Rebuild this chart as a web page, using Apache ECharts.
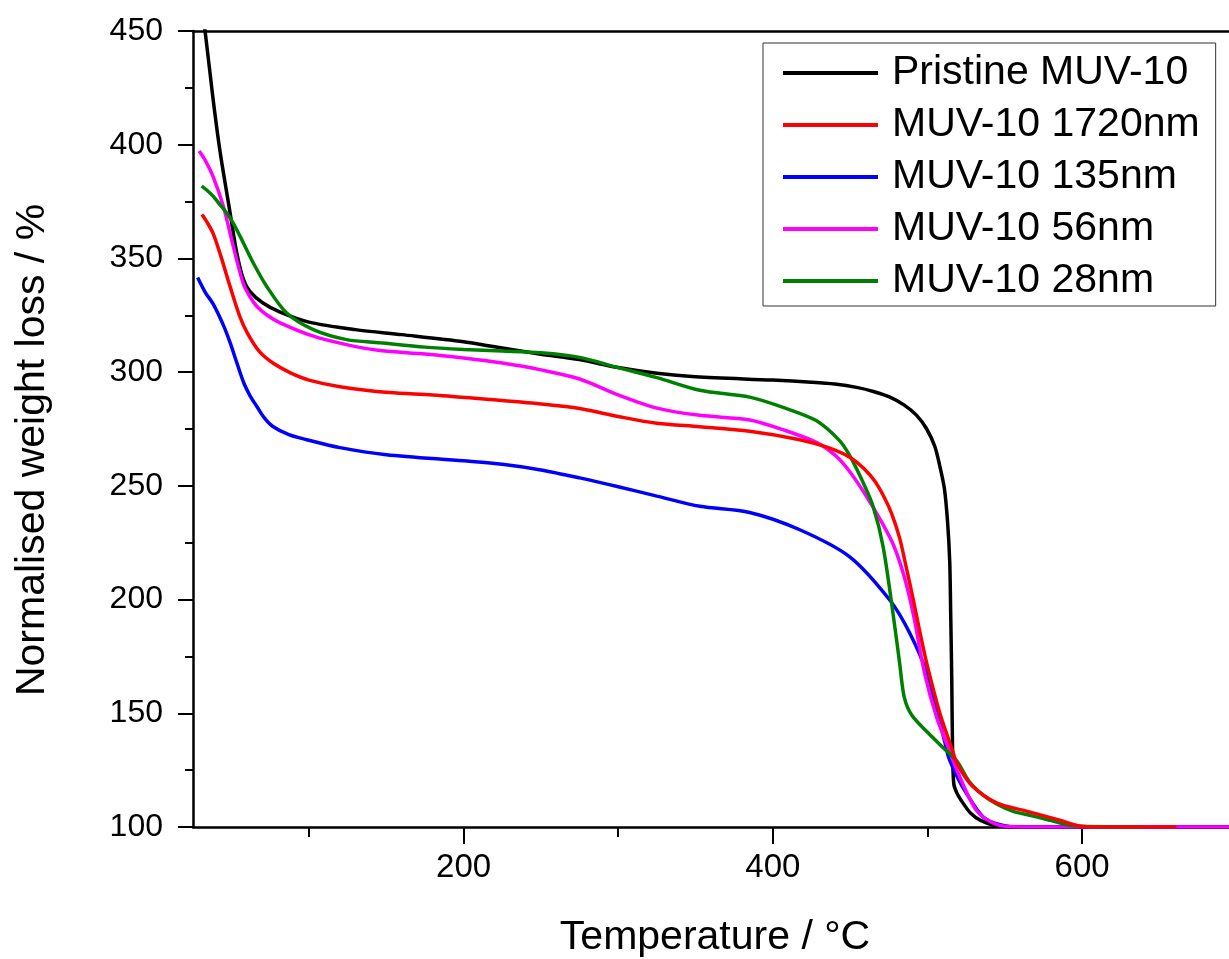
<!DOCTYPE html>
<html>
<head>
<meta charset="utf-8">
<script src="https://cdn.jsdelivr.net/npm/echarts@6/dist/echarts.min.js"></script>
<style>
html,body{margin:0;padding:0;background:#fff;}
#chart{width:1229px;height:959px;}
</style>
</head>
<body>
<div id="chart"></div>
<script>
const seriesNames = ['Pristine MUV-10', 'MUV-10 1720nm', 'MUV-10 135nm', 'MUV-10 56nm', 'MUV-10 28nm'];
const seriesColors = ['#000000', '#ff0000', '#0000ff', '#ff00ff', '#008000'];
const xMajorTicks = [200, 400, 600];
const xMinorTicks = [100, 300, 500];

const pristine = [[28,474],[32.8,450],[38,420],[42.5,397],[49,370],[53.3,352.5],[57.5,341],[61.8,335.5],[70,330.5],[81,326.5],[100,322],[130,318.7],[160,316.5],[200,313.4],[217,311.5],[249,308],[275,305.5],[300,302],[325,299.5],[350,298],[400,296.5],[425,295.6],[440,294.8],[455,293.2],[465,291.5],[475,289.2],[485,285.5],[493,281],[499.5,275],[504.7,267.4],[508,258.6],[511,248.5],[513,234],[514.4,216.5],[515,194.5],[515.7,165],[516.2,135],[517,119],[519,115],[523,110.5],[528,106],[534,103],[545,100.5],[560,100],[700,100]];
const nm1720 = [[30.8,369.3],[34,366],[38,361],[43,351],[49,337.6],[55,325],[60,317.4],[68,309],[76.7,304],[87.7,299.8],[100,296.5],[120,293.6],[152,291],[180,290],[217,288],[250,286],[275,284],[300,280.5],[325,277.5],[352.8,276],[385,274],[417.4,270.3],[435,267],[450,262.5],[459,257.5],[466,252],[472,245],[477,237.5],[482,227],[486,215],[490.5,201],[495,186],[499.5,172],[508,150],[516,134],[519,128],[529,118],[545,110.5],[564,107],[585.5,103],[598,100.5],[610,100],[661,100]];
const nm135 = [[28,341.6],[33,335],[38,330],[44.4,321],[49,313],[53.4,304],[58,295],[62,289.5],[66.2,285],[71,280],[76.7,276.1],[87,272.5],[98.5,270.3],[120,266.8],[150,263.7],[200,261],[225,259.5],[250,257],[275,253.5],[300,249.6],[325,245.5],[352.8,241],[385,238.3],[417.4,230.7],[449.7,218.8],[475.6,199.8],[488.5,185.3],[499.5,167.7],[511,138],[514,130],[520,121],[525,115],[536,104.4],[547,101],[560,100],[700,100]];
const nm56 = [[29,397.2],[33,393],[38,386],[44.6,373],[51,355.4],[57.5,339],[62,333],[66.2,329],[73,325],[81,321.8],[102.8,315.8],[125,312],[146,309.5],[175,308],[200,306.2],[225,304],[250,301],[275,297],[300,290],[325,284.2],[352.8,281],[385,279],[406.5,274.7],[428.5,269],[441,263],[450,256],[460,246],[470,234.5],[478,224],[485,210],[491,193],[498,168],[506,148],[514,134],[519,125],[532,107],[545,101],[560,100],[700,100]];
const nm28 = [[30.6,381.8],[34,380],[38,377.4],[42,374],[46.8,370],[51,365.5],[55.4,359.8],[64,348],[72.6,337.8],[85.6,326],[102.8,318.7],[124.4,314.3],[146,312.9],[175,311],[200,310],[225,309.3],[250,308.5],[275,306.5],[300,302],[325,297.6],[352.8,292],[385,289],[406.6,284.5],[428,278.7],[443,270],[449.7,263.3],[458,252],[464.8,241],[471.3,223.3],[477.7,194],[482,172],[485,157],[490,149],[501,141],[510,135],[519,129],[527,120],[536,114],[545,110],[555,107],[567,105],[579,103],[590,101],[600,100.3],[640,100]];

const allData = [pristine, nm1720, nm135, nm56, nm28];
const zOrder = [2, 6, 3, 4, 5];

const FONT = 'Liberation Sans, Arial, sans-serif';
const chart = echarts.init(document.getElementById('chart'), null, {renderer: 'canvas'});

const series = allData.map((d, i) => ({
  name: seriesNames[i],
  type: 'line',
  data: d,
  xAxisIndex: 0,
  yAxisIndex: 0,
  showSymbol: false,
  symbol: 'none',
  smooth: 0.3,
  clip: true,
  z: zOrder[i],
  lineStyle: {color: seriesColors[i], width: 3.5},
  itemStyle: {color: seriesColors[i]},
  emphasis: {disabled: true}
}));

const axisLineStyle = {color: '#000', width: 2.5};

chart.setOption({
  animation: false,
  backgroundColor: '#ffffff',
  grid: {left: 193, right: 0, top: 31, bottom: 132, containLabel: false},
  xAxis: [
    {
      type: 'value', min: 25, max: 695, position: 'bottom',
      axisLine: {show: true, lineStyle: axisLineStyle},
      axisTick: {show: true, customValues: xMajorTicks, length: 17, lineStyle: {color: '#000', width: 2}},
      axisLabel: {show: true, customValues: xMajorTicks, margin: 24, fontSize: 33, color: '#000', fontFamily: FONT},
      splitLine: {show: false}
    },
    {
      type: 'value', min: 25, max: 695, position: 'bottom', offset: 0,
      axisLine: {show: false},
      axisTick: {show: true, customValues: xMinorTicks, length: 10, lineStyle: {color: '#000', width: 2}},
      axisLabel: {show: false},
      splitLine: {show: false}
    },
    {
      type: 'value', min: 25, max: 695, position: 'top',
      axisLine: {show: true, lineStyle: axisLineStyle},
      axisTick: {show: false},
      axisLabel: {show: false},
      splitLine: {show: false}
    }
  ],
  yAxis: [{
    type: 'value', min: 100, max: 450, interval: 50,
    axisLine: {show: true, lineStyle: axisLineStyle},
    axisTick: {show: true, length: 15, lineStyle: {color: '#000', width: 2}},
    minorTick: {show: true, splitNumber: 2, length: 8, lineStyle: {color: '#000', width: 2}},
    axisLabel: {margin: 30, fontSize: 32, color: '#000', fontFamily: FONT},
    splitLine: {show: false},
    minorSplitLine: {show: false}
  }],
  legend: {
    show: true,
    data: seriesNames.map(n => ({name: n, icon: 'rect'})),
    orient: 'vertical',
    left: 763, top: 43,
    padding: [8, 16, 3, 20],
    itemWidth: 95, itemHeight: 4, itemGap: 8,
    backgroundColor: '#ffffff',
    borderColor: '#333333', borderWidth: 1, borderRadius: 0,
    selectedMode: false,
    textStyle: {fontSize: 41, color: '#000', fontFamily: FONT, lineHeight: 44, padding: [0, 0, 0, 9]}
  },
  graphic: [
    {
      type: 'text', x: 715, y: 938,
      style: {text: 'Temperature / °C', fontSize: 41, fontFamily: FONT, fill: '#000', textAlign: 'center', textVerticalAlign: 'middle'}
    },
    {
      type: 'text', x: 33, y: 450, rotation: Math.PI / 2,
      style: {text: 'Normalised weight loss / %', fontSize: 41, fontFamily: FONT, fill: '#000', textAlign: 'center', textVerticalAlign: 'middle'}
    }
  ],
  series: series
});
</script>
</body>
</html>
